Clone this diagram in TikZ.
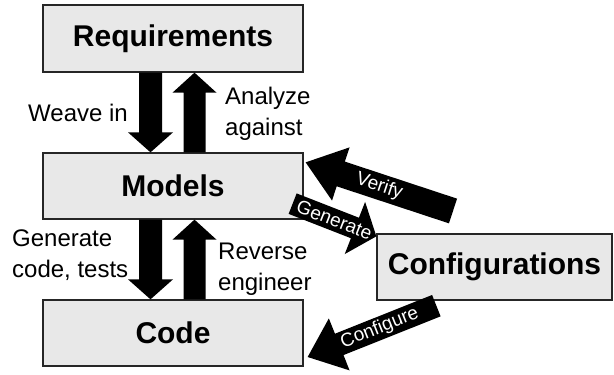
\documentclass[tikz,border=0pt]{standalone}
\usepackage{fontspec}
\setmainfont{Liberation Sans}
\usetikzlibrary{calc}
\definecolor{boxfill}{RGB}{232,232,232}
\newcommand{\blkarrow}[5]{%
  \coordinate (hb) at ($(#2)!#5!(#1)$);
  \fill ($(#1)!#3!90:(#2)$) -- ($(hb)!#3!90:(#2)$) -- ($(hb)!#4!90:(#2)$) -- (#2)
     -- ($(hb)!#4!-90:(#2)$) -- ($(hb)!#3!-90:(#2)$) -- ($(#1)!#3!-90:(#2)$) -- cycle;}
\tikzset{
  box/.style={draw=black!85, line width=1.3pt, fill=boxfill, inner sep=0pt,
    minimum width=260pt, minimum height=66pt,
    font=\fontsize{30}{36}\selectfont\bfseries},
  lbl/.style={inner sep=0pt, align=left, font=\fontsize{24}{31}\selectfont},
  arrlbl/.style={text=white, inner sep=0pt, font=\fontsize{19}{21}\selectfont}
}
\begin{document}
\begin{tikzpicture}[x=1pt,y=-1pt]
\useasboundingbox (0,0) rectangle (614,375);
\node[box, minimum height=67pt] (req) at (173,38.5) {Requirements};
\node[box] (mod) at (173,186) {Models};
\node[box] (code) at (173,333) {Code};
\node[box, minimum width=235pt] (conf) at (494.5,267) {Configurations};

% vertical block arrows
\coordinate (a1t) at ($(req.south)+(-22.5,0)$);
\coordinate (a1h) at ($(mod.north)+(-22.5,0)$);
\coordinate (a2t) at ($(mod.north)+(21.5,0)$);
\coordinate (a2h) at ($(req.south)+(21.5,0)$);
\coordinate (a3t) at ($(mod.south)+(-22.5,0)$);
\coordinate (a3h) at ($(code.north)+(-22.5,0)$);
\coordinate (a4t) at ($(code.north)+(21.5,0)$);
\coordinate (a4h) at ($(mod.south)+(21.5,0)$);
\blkarrow{a1t}{a1h}{11.5pt}{22.5pt}{20pt}
\blkarrow{a2t}{a2h}{11pt}{22pt}{20pt}
\blkarrow{a3t}{a3h}{11.5pt}{22.5pt}{20pt}
\blkarrow{a4t}{a4h}{11pt}{22pt}{20pt}

% diagonal block arrows
\coordinate (vt) at (453,211);
\coordinate (vh) at ($(mod.north east)+(2,10)$);
\coordinate (gt) at ($(mod.south east)+(-11,-16)$);
\coordinate (gh) at ($(conf.north west)+(0,3)$);
\coordinate (ct) at ($(conf.south west)+(60,5)$);
\coordinate (ch) at ($(code.east)+(4,24)$);
\blkarrow{vt}{vh}{13pt}{28pt}{37pt}
\blkarrow{gt}{gh}{11pt}{28pt}{23pt}
\blkarrow{ct}{ch}{11.5pt}{28pt}{34pt}
\path (vh) -- node[arrlbl, sloped, pos=0.5] (verl) {Verify} (vt);
\path (gt) -- node[arrlbl, sloped, pos=0.5] (genl) {Generate} (gh);
\path (ch) -- node[arrlbl, sloped, pos=0.56] (cfgl) {Configure} (ct);

% side labels
\node[lbl, anchor=base west] (weave) at (28,121) {Weave in};
\node[lbl, anchor=north west] (anal) at (225,87) {Analyze\\against};
\node[lbl, anchor=north west] (gen) at (12,230) {Generate\\code, tests};
\node[lbl, anchor=north west] (rev) at (218,243) {Reverse\\engineer};
\end{tikzpicture}
\end{document}
